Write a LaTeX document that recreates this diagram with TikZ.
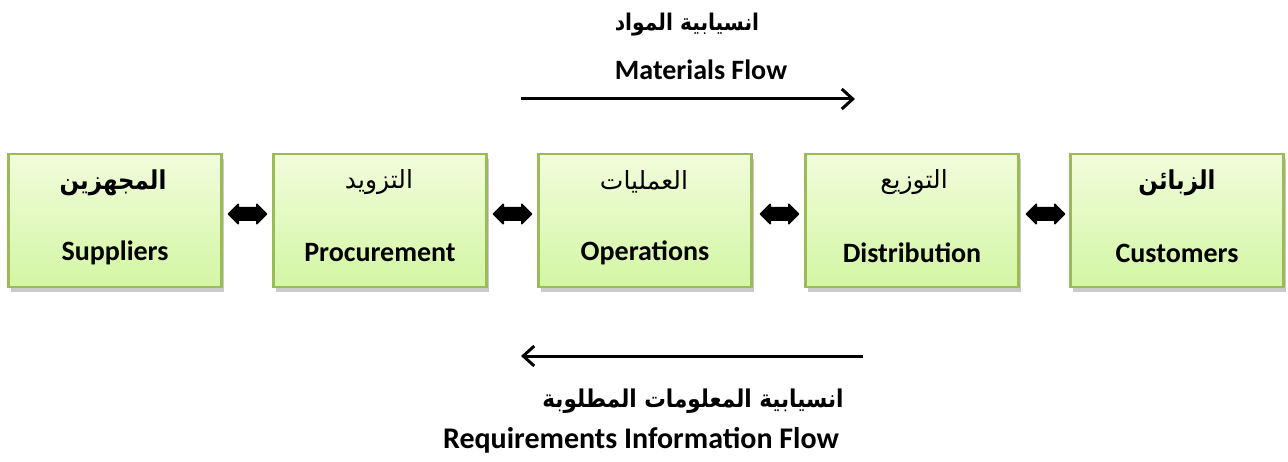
\documentclass[tikz,border=0pt]{standalone}
\usepackage{fontspec}
\setmainfont{Carlito}
\newfontfamily\arabicfont[Script=Arabic]{DejaVu Sans}
\newfontfamily\arabicbold[Script=Arabic, FakeStretch=0.88]{DejaVu Sans Bold}
\TeXXeTstate=1
\usetikzlibrary{shapes.arrows,shadows,arrows.meta}
\definecolor{boxtop}{HTML}{F1FCDB}
\definecolor{boxbot}{HTML}{D3F6A4}
\definecolor{boxline}{HTML}{9BBB59}
\tikzset{
  chainbox/.style={rectangle, draw=boxline, line width=2.2pt, top color=boxtop, bottom color=boxbot,
    minimum width=213pt, minimum height=133pt, inner sep=0pt,
    drop shadow={shadow xshift=2pt, shadow yshift=-5pt, opacity=0.35, fill=black!60}},
  dblarrow/.style={double arrow, fill=black, draw=black, line width=1.5pt, line join=round,
    minimum width=19pt, minimum height=38pt,
    double arrow head extend=3.5pt, inner xsep=0pt, inner ysep=5.5pt},
  artxt/.style={font=\fontsize{25}{28}\selectfont\arabicfont, inner sep=0pt},
  artxtb/.style={font=\fontsize{26}{30}\selectfont\arabicbold, inner sep=0pt},
  artitle/.style={font=\fontsize{23}{27}\selectfont\arabicbold, inner sep=0pt},
  arbottom/.style={font=\fontsize{24.5}{28}\selectfont\arabicbold, inner sep=0pt},
  entxt/.style={font=\fontsize{28}{32}\selectfont\bfseries, inner sep=0pt},
  enbig/.style={font=\fontsize{30}{34}\selectfont\bfseries, inner sep=0pt},
  flow/.style={line width=3pt, -{Straight Barb[length=11pt,width=20pt,line width=3pt]}}
}
\begin{document}
\begin{tikzpicture}[x=1pt,y=-1pt]
\useasboundingbox (0,0) rectangle (1288,462);
% boxes
\foreach \n/\cx in {sup/115,pro/380,ope/645,dis/912,cus/1177}{
  \node[chainbox] (\n) at (\cx,220.5) {};
}
% arabic labels
\node[artxtb] (supA) at (113,183) {\beginR المجهزين\endR};
\node[artxt]  (proA) at (379,182) {\beginR التزويد\endR};
\node[artxt]  (opeA) at (644,182) {\beginR العمليات\endR};
\node[artxt]  (disA) at (914,182) {\beginR التوزيع\endR};
\node[artxtb] (cusA) at (1177,183) {\beginR الزبائن\endR};
% english labels
\node[entxt] (supE) at (115,253) {Suppliers};
\node[entxt] (proE) at (380,253) {Procurement};
\node[entxt] (opeE) at (645,253) {Operations};
\node[entxt] (disE) at (912,253) {Distribution};
\node[entxt] (cusE) at (1177,253) {Customers};
% double arrows
\node[dblarrow] (d1) at (247.5,214) {};
\node[dblarrow] (d2) at (512.5,214) {};
\node[dblarrow] (d3) at (779.5,214) {};
\node[dblarrow] (d4) at (1045.5,214) {};
% top flow
\node[artitle] (matA) at (687,25) {\beginR انسيابية المواد\endR};
\node[entxt] (matE) at (701,70) {Materials Flow};
\coordinate (m1) at (521,99);
\coordinate (m2) at (855,99);
\draw[flow] (m1) -- (m2);
% bottom flow
\coordinate (r1) at (863,356);
\coordinate (r2) at (521,356);
\draw[flow] (r1) -- (r2);
\node[arbottom] (reqA) at (693,401) {\beginR انسيابية المعلومات المطلوبة\endR};
\node[enbig] (reqE) at (641,440) {Requirements Information Flow};
\end{tikzpicture}
\end{document}
